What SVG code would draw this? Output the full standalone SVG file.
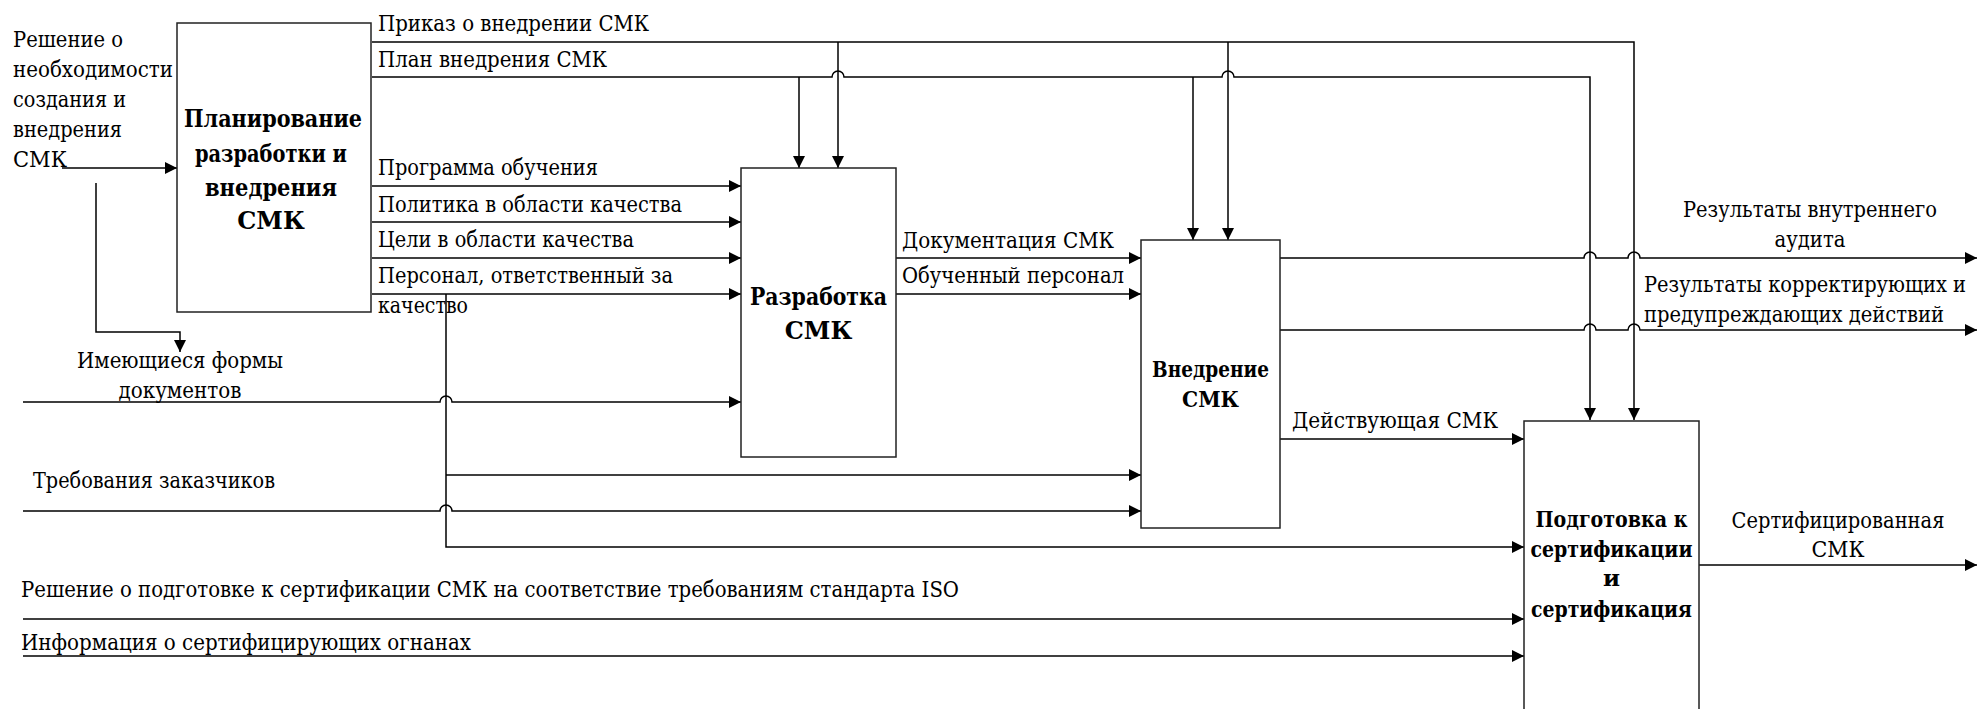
<svg xmlns="http://www.w3.org/2000/svg" width="1977" height="709" viewBox="0 0 1977 709">
<style>
.box{fill:#fff;stroke:#222;stroke-width:1.5}
.arr{fill:none;stroke:#000;stroke-width:1.5;marker-end:url(#ah)}
text{font-family:'DejaVu Serif',serif;fill:#000}
.t{font-size:22px}
.c{text-anchor:middle}
.b1{font-size:24px;font-weight:bold;text-anchor:middle}
.b2{font-size:23px;font-weight:bold;text-anchor:middle}
</style>
<defs>
<marker id="ah" markerUnits="userSpaceOnUse" markerWidth="13" markerHeight="13" refX="12" refY="6" orient="auto">
<path d="M0,0 L12,6 L0,12 z" fill="#000"/>
</marker>
</defs>
<rect width="1977" height="709" fill="#fff"/>

<g id="connectors">
<path class="arr" d="M62,168 H177"/>
<path class="arr" d="M96,183 V332 H180 V352"/>
<path class="arr" d="M372,42 H1634 V420"/>
<path class="arr" d="M838,42 V168"/>
<path class="arr" d="M1228,42 V240"/>
<path class="arr" d="M372,77 H832 A6,6 0 0 1 844,77 H1222 A6,6 0 0 1 1234,77 H1590 V420"/>
<path class="arr" d="M799,77 V168"/>
<path class="arr" d="M1193,77 V240"/>
<path class="arr" d="M372,186 H741"/>
<path class="arr" d="M372,222 H741"/>
<path class="arr" d="M372,258 H741"/>
<path class="arr" d="M372,294 H741"/>
<path class="arr" d="M446,294 V547 H1524"/>
<path class="arr" d="M446,475 H1141"/>
<path class="arr" d="M23,402 H440 A6,6 0 0 1 452,402 H741"/>
<path class="arr" d="M23,511 H440 A6,6 0 0 1 452,511 H1141"/>
<path class="arr" d="M23,619 H1524"/>
<path class="arr" d="M23,656 H1524"/>
<path class="arr" d="M896,258 H1141"/>
<path class="arr" d="M896,294 H1141"/>
<path class="arr" d="M1167,240 V277 H1141"/>
<path class="arr" d="M1280,258 H1584 A6,6 0 0 1 1596,258 H1628 A6,6 0 0 1 1640,258 H1977"/>
<path class="arr" d="M1280,330 H1584 A6,6 0 0 1 1596,330 H1628 A6,6 0 0 1 1640,330 H1977"/>
<path class="arr" d="M1280,439 H1524"/>
<path class="arr" d="M1699,565 H1977"/>
</g>

<g id="node-planning">
<rect class="box" x="177" y="23" width="194" height="289"/>
<text class="b1" x="273" y="127" textLength="178" lengthAdjust="spacingAndGlyphs">Планирование</text>
<text class="b1" x="271" y="162" textLength="152" lengthAdjust="spacingAndGlyphs">разработки и</text>
<text class="b1" x="271" y="196" textLength="132" lengthAdjust="spacingAndGlyphs">внедрения</text>
<text class="b1" x="271" y="229">СМК</text>
</g>

<g id="node-development">
<rect class="box" x="741" y="168" width="155" height="289"/>
<text class="b1" x="818.5" y="305" textLength="137" lengthAdjust="spacingAndGlyphs">Разработка</text>
<text class="b1" x="818.5" y="339">СМК</text>
</g>

<g id="node-implementation">
<rect class="box" x="1141" y="240" width="139" height="288"/>
<text class="b2" x="1210.5" y="377" textLength="117" lengthAdjust="spacingAndGlyphs">Внедрение</text>
<text class="b2" x="1210.5" y="407" textLength="57" lengthAdjust="spacingAndGlyphs">СМК</text>
</g>

<g id="node-certification">
<rect class="box" x="1524" y="421" width="175" height="300"/>
<text class="b2" x="1611.5" y="527" textLength="152" lengthAdjust="spacingAndGlyphs">Подготовка к</text>
<text class="b2" x="1611.5" y="557" textLength="162" lengthAdjust="spacingAndGlyphs">сертификации</text>
<text class="b2" x="1611.5" y="586">и</text>
<text class="b2" x="1611.5" y="617" textLength="161" lengthAdjust="spacingAndGlyphs">сертификация</text>
</g>

<g id="labels">
<text class="t" x="13" y="47" textLength="110" lengthAdjust="spacingAndGlyphs">Решение о</text>
<text class="t" x="13" y="77" textLength="160" lengthAdjust="spacingAndGlyphs">необходимости</text>
<text class="t" x="13" y="107" textLength="113" lengthAdjust="spacingAndGlyphs">создания и</text>
<text class="t" x="13" y="137" textLength="109" lengthAdjust="spacingAndGlyphs">внедрения</text>
<text class="t" x="13" y="167" textLength="54" lengthAdjust="spacingAndGlyphs">СМК</text>
<text class="t" x="378" y="31" textLength="271" lengthAdjust="spacingAndGlyphs">Приказ о внедрении СМК</text>
<text class="t" x="378" y="67" textLength="229" lengthAdjust="spacingAndGlyphs">План внедрения СМК</text>
<text class="t" x="378" y="175" textLength="220" lengthAdjust="spacingAndGlyphs">Программа обучения</text>
<text class="t" x="378" y="212" textLength="304" lengthAdjust="spacingAndGlyphs">Политика в области качества</text>
<text class="t" x="378" y="247" textLength="256" lengthAdjust="spacingAndGlyphs">Цели в области качества</text>
<text class="t" x="378" y="283" textLength="295" lengthAdjust="spacingAndGlyphs">Персонал, ответственный за</text>
<text class="t" x="378" y="313" textLength="90" lengthAdjust="spacingAndGlyphs">качество</text>
<text class="t c" x="180" y="368" textLength="206" lengthAdjust="spacingAndGlyphs">Имеющиеся формы</text>
<text class="t c" x="180" y="398" textLength="123" lengthAdjust="spacingAndGlyphs">документов</text>
<text class="t" x="33" y="488" textLength="242" lengthAdjust="spacingAndGlyphs">Требования заказчиков</text>
<text class="t" x="21" y="597" textLength="938" lengthAdjust="spacingAndGlyphs">Решение о подготовке к сертификации СМК на соответствие требованиям стандарта ISO</text>
<text class="t" x="21" y="650" textLength="450" lengthAdjust="spacingAndGlyphs">Информация о сертифицирующих огнанах</text>
<text class="t" x="902" y="248" textLength="212" lengthAdjust="spacingAndGlyphs">Документация СМК</text>
<text class="t" x="902" y="283" textLength="222" lengthAdjust="spacingAndGlyphs">Обученный персонал</text>
<text class="t c" x="1810" y="217" textLength="254" lengthAdjust="spacingAndGlyphs">Результаты внутреннего</text>
<text class="t c" x="1810" y="247" textLength="71" lengthAdjust="spacingAndGlyphs">аудита</text>
<text class="t" x="1644" y="292" textLength="322" lengthAdjust="spacingAndGlyphs">Результаты корректирующих и</text>
<text class="t" x="1644" y="322" textLength="300" lengthAdjust="spacingAndGlyphs">предупреждающих действий</text>
<text class="t" x="1292" y="428" textLength="206" lengthAdjust="spacingAndGlyphs">Действующая СМК</text>
<text class="t c" x="1838" y="528" textLength="213" lengthAdjust="spacingAndGlyphs">Сертифицированная</text>
<text class="t c" x="1838" y="557" textLength="53" lengthAdjust="spacingAndGlyphs">СМК</text>
</g>
</svg>
